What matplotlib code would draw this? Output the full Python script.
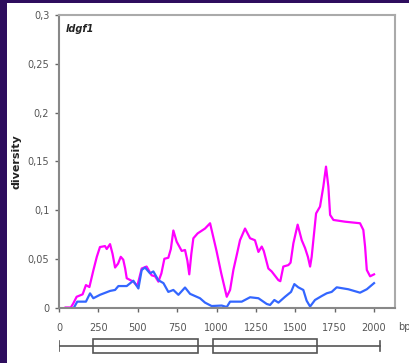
import matplotlib
matplotlib.use("Agg")
import matplotlib.pyplot as plt
from matplotlib.patches import Rectangle

# magenta curve
pink_bp = [42, 75, 90, 112, 150, 171, 193, 218, 240, 260, 292, 303, 324, 340, 356, 375,
           392, 408, 420, 430, 472, 497, 525, 556, 588, 610, 631, 650, 669, 694, 710,
           726, 747, 779, 800, 815, 827, 840, 853, 880, 927, 959, 969, 1000, 1030, 1065,
           1086, 1107, 1130, 1149, 1181, 1213, 1244, 1266, 1287, 1300, 1329, 1350, 1393,
           1405, 1424, 1456, 1470, 1488, 1515, 1541, 1562, 1580, 1594, 1604, 1632, 1657,
           1678, 1695, 1710, 1721, 1742, 1816, 1911, 1932, 1943, 1954, 1975, 2000]
pink_div = [0, 0, 0.004, 0.011, 0.0135, 0.023, 0.021, 0.038, 0.052, 0.062, 0.063, 0.060,
            0.065, 0.055, 0.041, 0.045, 0.052, 0.049, 0.040, 0.030, 0.0265, 0.022, 0.040,
            0.042, 0.033, 0.032, 0.0265, 0.035, 0.050, 0.051, 0.060, 0.079, 0.0675, 0.058,
            0.059, 0.048, 0.034, 0.055, 0.071, 0.076, 0.081, 0.0864, 0.0795, 0.058, 0.035,
            0.011, 0.018, 0.0385, 0.055, 0.069, 0.081, 0.071, 0.069, 0.057, 0.0625, 0.058,
            0.040, 0.037, 0.028, 0.027, 0.042, 0.0435, 0.046, 0.066, 0.085, 0.069, 0.061,
            0.052, 0.042, 0.052, 0.0965, 0.1035, 0.124, 0.1445, 0.124, 0.095, 0.0898,
            0.088, 0.0864, 0.0795, 0.0625, 0.0385, 0.032, 0.034]

# blue curve
blue_bp = [95, 116, 171, 197, 218, 260, 324, 356, 377, 430, 472, 504, 525, 546, 578, 599,
           631, 663, 694, 726, 758, 800, 832, 895, 927, 969, 1033, 1065, 1086, 1160, 1213,
           1266, 1319, 1340, 1367, 1393, 1435, 1473, 1494, 1519, 1551, 1572, 1594, 1625,
           1668, 1700, 1731, 1763, 1837, 1911, 1954, 2000]
blue_div = [0, 0.006, 0.006, 0.0145, 0.0095, 0.013, 0.017, 0.018, 0.022, 0.022, 0.0275,
            0.0195, 0.0385, 0.041, 0.035, 0.037, 0.028, 0.025, 0.016, 0.018, 0.013, 0.0205,
            0.014, 0.0095, 0.005, 0.0015, 0.002, 0.0005, 0.006, 0.006, 0.0105, 0.0095,
            0.0036, 0.0026, 0.0077, 0.005, 0.011, 0.016, 0.024, 0.0207, 0.018, 0.007,
            0.001, 0.0077, 0.0118, 0.0146, 0.016, 0.0207, 0.0187, 0.0152, 0.0187, 0.025]

x_ticks = [0, 250, 500, 750, 1000, 1250, 1500, 1750, 2000]
y_ticks = [0, 0.05, 0.1, 0.15, 0.2, 0.25, 0.3]
y_labels = ["0", "0,05", "0,1", "0,15", "0,2", "0,25", "0,3"]

# gene structure (bp): exon boxes and line ends
exons = [(214, 885), (976, 1640)]
gene_start, gene_end = 0, 2035

W, H = 410, 363
fig = plt.figure(figsize=(W / 100, H / 100), dpi=100, facecolor="#2e0d5e")
fig.patches.append(Rectangle((7 / W, 0), 1, 1 - 3 / H, transform=fig.transFigure,
                             facecolor="white", edgecolor="none", zorder=-5))

ax = fig.add_axes([59 / W, 1 - 307.5 / H, 336 / W, 292.5 / H])
ax.set_facecolor("white")
ax.plot(pink_bp, pink_div, color="#ff00ff", lw=1.6, solid_joinstyle="round")
ax.plot(blue_bp, blue_div, color="#3366ff", lw=1.6, solid_joinstyle="round")
ax.set_xlim(0, 2133)
ax.set_ylim(0, 0.3)
ax.set_xticks(x_ticks)
ax.set_yticks(y_ticks)
ax.set_yticklabels(y_labels)
ax.tick_params(axis="both", labelsize=7, colors="#666666", labelcolor="#555555",
               length=3, width=1, direction="out")
ax.tick_params(axis="x", pad=8)
ax.tick_params(axis="y", pad=4)
for side in ["left", "bottom"]:
    ax.spines[side].set_color("#888888")
    ax.spines[side].set_linewidth(1.5)
for side in ["top", "right"]:
    ax.spines[side].set_color("#aaaaaa")
    ax.spines[side].set_linewidth(1.5)
ax.set_ylabel("diversity", fontsize=8, fontweight="bold", color="#222222")
ax.yaxis.set_label_coords((22 - 59) / 336, 0.5)
ax.text(0.02, 0.952, "ldgf1", transform=ax.transAxes, fontsize=7, fontweight="bold",
        fontstyle="italic", va="center", ha="left", color="#222222")
fig.text(398 / W, 1 - 327 / H, "bp", fontsize=7, color="#555555", va="center", ha="left")

# gene diagram under the axis
gx = fig.add_axes([59 / W, 1 - 355 / H, 336 / W, 18 / H])
gx.set_xlim(ax.get_xlim())
gx.set_ylim(0, 1)
gx.axis("off")
gx.plot([gene_start, gene_end], [0.5, 0.5], color="#555555", lw=1.2)
for xe in (gene_start, gene_end):
    gx.plot([xe, xe], [0.2, 0.8], color="#555555", lw=1.2)
for s, e in exons:
    gx.add_patch(Rectangle((s, 0.1), e - s, 0.8, facecolor="white", edgecolor="#555555", lw=1.2))

fig.savefig("out.png", dpi=100, facecolor=fig.get_facecolor())
